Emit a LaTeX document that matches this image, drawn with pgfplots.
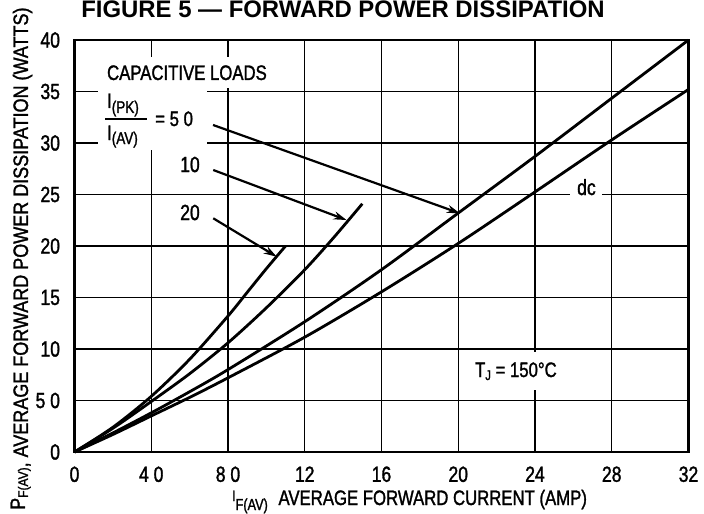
\documentclass[border=0pt]{standalone}
\usepackage{fontspec}
\setmainfont{Liberation Sans}
\newfontfamily\cf{Liberation Sans}[FakeStretch=0.8,FakeBold=1.4]
\newfontfamily\cfy{Liberation Sans}[FakeStretch=0.86,FakeBold=1.4]
\newfontfamily\tf{Liberation Sans Bold}
\usepackage{pgfplots}
\pgfplotsset{compat=1.18}
\usetikzlibrary{arrows.meta}
\newcommand{\fs}[1]{\fontsize{#1}{#1}\selectfont}
\begin{document}
\begin{tikzpicture}
\useasboundingbox (-74.5bp,-62bp) rectangle (629.5bp,452bp);
\begin{axis}[
  scale only axis, width=614bp, height=412bp,
  xmin=0, xmax=32, ymin=0, ymax=40,
  xtick={0,4,...,32}, xticklabels={0,4 0,8 0,12,16,20,24,28,32},
  ytick={0,5,...,40}, yticklabels={0,5 0,10,15,20,25,30,35,40},
  major tick length=0pt,
  grid=major, grid style={black, line width=1.3bp},
  axis line style={black, line width=2.2bp},
  tick label style={font=\cf\fs{22}},
  every x tick label/.append style={yshift=-11bp},
  every y tick label/.append style={xshift=-11bp},
  clip=false,
]
% white boxes behind annotations
\fill[white] (axis cs:1.22,35.34) rectangle (axis cs:10.71,38.35);
\fill[white] (axis cs:1.22,29.32) rectangle (axis cs:6.91,35.34);
\fill[white] (axis cs:25.8,24.6) rectangle (axis cs:27.5,26.6);
\fill[white] (axis cs:20.61,6.02) rectangle (axis cs:26.35,9.71);

% dc
\addplot[black, line width=2.8bp, smooth] coordinates {(0,0) (2,1.7) (4,3.5) (6,5.3) (8,7.2) (12,11.15) (16,15.55) (20,20.25) (24,25.25) (28,30.3) (32,35.2)};
% I(PK)/I(AV) = 5.0
\addplot[black, line width=2.8bp, smooth] coordinates {(0,0) (2,1.85) (4,3.8) (6,5.85) (8,8.0) (12,12.65) (16,17.7) (20,23.2) (24,28.7) (28,34.35) (32,40)};
% 10
\addplot[black, line width=2.8bp, smooth] coordinates {(0,0) (2,2.3) (4,4.9) (6,7.6) (8,10.6) (10,14.0) (12,17.7) (13.5,20.8) (15,24.1)};
% 20
\addplot[black, line width=2.8bp, smooth] coordinates {(0,0) (2,2.4) (4,5.4) (6,9.0) (8,13.2) (9,15.5) (10,17.8) (11,20.0)};

% arrows
\draw[black, line width=2.2bp, -{Stealth[length=13bp,width=8bp]}] (axis cs:7.22,31.75) -- (axis cs:20.09,23.17);
\draw[black, line width=2.2bp, -{Stealth[length=13bp,width=8bp]}] (axis cs:7.23,27.38) -- (axis cs:14.18,22.52);
\draw[black, line width=2.2bp, -{Stealth[length=13bp,width=8bp]}] (axis cs:7.23,22.69) -- (axis cs:10.54,18.96);

% texts
\node[anchor=base west, inner sep=0pt, font=\cf\fs{21}] at (axis cs:1.69,36.12) {CAPACITIVE LOADS};
\node[anchor=base west, inner sep=0pt, font=\cf\fs{21}] at (axis cs:1.69,33.4) {I\raisebox{-5bp}{\fs{17}(PK)}};
\draw[black, line width=2.2bp] (axis cs:1.59,32.33) -- (axis cs:3.78,32.33);
\node[anchor=base west, inner sep=0pt, font=\cf\fs{21}] at (axis cs:1.69,30.29) {I\raisebox{-4bp}{\fs{17}(AV)}};
\node[anchor=base west, inner sep=0pt, font=\cf\fs{21}] at (axis cs:4.2,31.65) {= 5 0};
\node[anchor=base west, inner sep=0pt, font=\cf\fs{22}] at (axis cs:5.5,27.18) {10};
\node[anchor=base west, inner sep=0pt, font=\cf\fs{22}] at (axis cs:5.5,22.52) {20};
\node[anchor=base west, inner sep=0pt, font=\cf\fs{22}] at (axis cs:26.19,24.95) {dc};
\node[anchor=base west, inner sep=0pt, font=\cf\fs{21}] at (axis cs:20.87,7.28) {T\raisebox{-3bp}{\fs{14}J} = 150°C};
\end{axis}
% title and axis labels
\node[anchor=base, inner sep=0pt, font=\tf\fs{24}] at (268.5bp,434bp) {FIGURE 5 — FORWARD POWER DISSIPATION};
\node[anchor=base west, inner sep=0pt, font=\cf\fs{21}] at (157.5bp,-53bp) {\raisebox{4bp}{\fs{15}I}\raisebox{-5bp}{\fs{16}F(AV)}\hspace{6bp} AVERAGE FORWARD CURRENT (AMP)};
\node[anchor=base west, inner sep=0pt, rotate=90, font=\cfy\fs{21}] at (-46.5bp,-58bp) {\raisebox{3bp}{P}{\fs{14}F(AV)}, AVERAGE FORWARD POWER DISSIPATION (WATTS)};
\end{tikzpicture}
\end{document}
